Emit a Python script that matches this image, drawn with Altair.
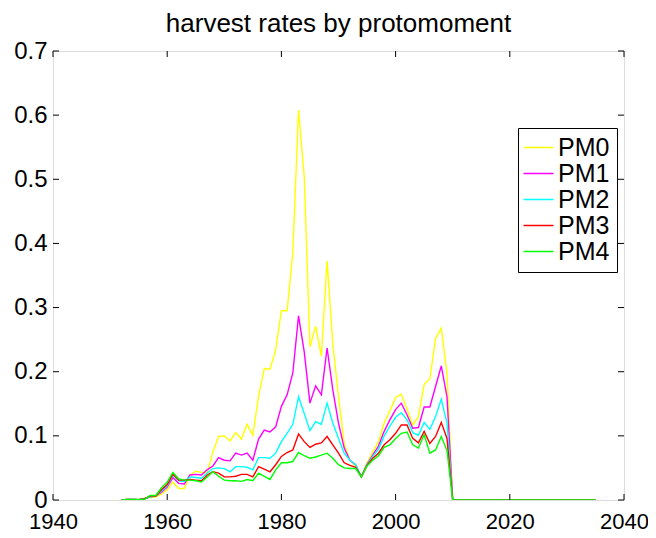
import altair as alt
import pandas as pd

years = list(range(1952, 2036))
n_zero = 2035 - 2010 + 1

pm0 = [0, 0.0005, 0.0005, 0.0005, 0.002, 0.004, 0.005, 0.009, 0.016,
       0.028, 0.018, 0.018, 0.039, 0.045, 0.043, 0.042, 0.075, 0.099, 0.100,
       0.092, 0.105, 0.095, 0.118, 0.101, 0.162, 0.205, 0.204, 0.234, 0.295,
       0.295, 0.385, 0.608, 0.504, 0.239, 0.271, 0.224, 0.373, 0.244, 0.161,
       0.088, 0.062, 0.052, 0.036, 0.058, 0.075, 0.091, 0.120, 0.139, 0.160,
       0.165, 0.142, 0.117, 0.130, 0.180, 0.189, 0.252, 0.268, 0.197] + [0] * n_zero
pm1 = [0, 0.001, 0.001, 0.0005, 0.002, 0.005, 0.006, 0.012, 0.020,
       0.035, 0.026, 0.025, 0.039, 0.040, 0.039, 0.047, 0.053, 0.066, 0.062,
       0.061, 0.073, 0.070, 0.073, 0.062, 0.095, 0.109, 0.106, 0.114, 0.146,
       0.164, 0.198, 0.287, 0.231, 0.151, 0.178, 0.164, 0.237, 0.172, 0.120,
       0.081, 0.062, 0.055, 0.036, 0.056, 0.070, 0.084, 0.107, 0.125, 0.141,
       0.151, 0.133, 0.112, 0.113, 0.145, 0.145, 0.177, 0.209, 0.161] + [0] * n_zero
pm2 = [0, 0.001, 0.001, 0.0005, 0.002, 0.005, 0.006, 0.014, 0.022,
       0.039, 0.030, 0.029, 0.036, 0.035, 0.034, 0.042, 0.049, 0.050, 0.049,
       0.044, 0.052, 0.052, 0.051, 0.047, 0.066, 0.066, 0.065, 0.073, 0.091,
       0.104, 0.118, 0.161, 0.135, 0.108, 0.122, 0.118, 0.151, 0.120, 0.096,
       0.073, 0.062, 0.055, 0.036, 0.055, 0.068, 0.079, 0.100, 0.115, 0.129,
       0.136, 0.125, 0.105, 0.101, 0.121, 0.110, 0.130, 0.157, 0.120] + [0] * n_zero
pm3 = [0, 0.001, 0.001, 0.0005, 0.002, 0.006, 0.006, 0.016, 0.024,
       0.040, 0.031, 0.031, 0.032, 0.031, 0.030, 0.039, 0.044, 0.042, 0.036,
       0.036, 0.037, 0.040, 0.040, 0.036, 0.052, 0.048, 0.044, 0.055, 0.068,
       0.074, 0.078, 0.103, 0.091, 0.082, 0.087, 0.089, 0.099, 0.086, 0.073,
       0.058, 0.054, 0.051, 0.036, 0.054, 0.065, 0.073, 0.086, 0.094, 0.104,
       0.117, 0.117, 0.096, 0.089, 0.107, 0.088, 0.099, 0.121, 0.096] + [0] * n_zero
pm4 = [0, 0.001, 0.001, 0.001, 0.001, 0.007, 0.007, 0.019, 0.028,
       0.043, 0.033, 0.031, 0.031, 0.030, 0.028, 0.036, 0.044, 0.037, 0.031,
       0.030, 0.030, 0.029, 0.032, 0.030, 0.042, 0.037, 0.032, 0.047, 0.058,
       0.058, 0.060, 0.074, 0.069, 0.065, 0.067, 0.070, 0.073, 0.065, 0.055,
       0.050, 0.049, 0.049, 0.036, 0.053, 0.062, 0.069, 0.082, 0.086, 0.096,
       0.104, 0.106, 0.086, 0.081, 0.102, 0.073, 0.078, 0.099, 0.077] + [0] * n_zero

series_names = ["PM0", "PM1", "PM2", "PM3", "PM4"]
series_colors = ["#ffff00", "#ff00ff", "#00ffff", "#ff0000", "#00ff00"]
x_ticks = [1940, 1960, 1980, 2000, 2020, 2040]
y_ticks = [0, 0.1, 0.2, 0.3, 0.4, 0.5, 0.6, 0.7]

W, H = 571, 449
TICK = 6
FONT = "Liberation Sans"

rows = []
for name, vals in zip(series_names, [pm0, pm1, pm2, pm3, pm4]):
    assert len(vals) == len(years), (name, len(vals))
    for yr, v in zip(years, vals):
        rows.append({"year": yr, "rate": v, "series": name})
df = pd.DataFrame(rows)

xs = alt.Scale(domain=[1940, 2040], nice=False, zero=False)
ys = alt.Scale(domain=[0, 0.7], nice=False, zero=False)

x_axis = alt.Axis(
    values=x_ticks, format="d", title=None, grid=False, ticks=False, domain=False,
    labelPadding=11, labelFontSize=22, labelFont=FONT, labelColor="black",
    labelFlush=False, labelOverlap=False, labelBound=False)
y_axis = alt.Axis(
    values=y_ticks, format=".1~f", title=None, grid=False, ticks=False, domain=False,
    labelPadding=6, labelFontSize=24, labelFont=FONT, labelColor="black",
    labelFlush=False, labelOverlap=False, labelBound=False)

lines = alt.Chart(df).mark_line(strokeWidth=1.4, clip=True).encode(
    x=alt.X("year:Q", scale=xs, axis=x_axis),
    y=alt.Y("rate:Q", scale=ys, axis=y_axis),
    color=alt.Color("series:N", scale=alt.Scale(domain=series_names, range=series_colors),
                    legend=alt.Legend(
                        title=None, orient="none", legendX=465, legendY=77,
                        direction="vertical", fillColor="white", strokeColor="black",
                        padding=7, labelFontSize=25, labelFont=FONT, labelColor="black",
                        symbolType="M-1.5,0L1.5,0", symbolSize=400, symbolStrokeWidth=1.5,
                        symbolOffset=1, labelOffset=7, rowPadding=0, labelLimit=300)),
)

xt = pd.DataFrame({"year": x_ticks})
yt = pd.DataFrame({"rate": y_ticks})

xb = alt.Chart(xt).mark_rule(color="black", strokeWidth=1).encode(
    x=alt.X("year:Q", scale=xs, axis=x_axis), y=alt.value(H), y2=alt.value(H - TICK))
xtop = alt.Chart(xt).mark_rule(color="black", strokeWidth=1).encode(
    x=alt.X("year:Q", scale=xs, axis=x_axis), y=alt.value(0), y2=alt.value(TICK))
yl = alt.Chart(yt).mark_rule(color="black", strokeWidth=1).encode(
    y=alt.Y("rate:Q", scale=ys, axis=y_axis), x=alt.value(0), x2=alt.value(TICK))
yr_ = alt.Chart(yt).mark_rule(color="black", strokeWidth=1).encode(
    y=alt.Y("rate:Q", scale=ys, axis=y_axis), x=alt.value(W - TICK), x2=alt.value(W))

chart = alt.layer(lines, xb, xtop, yl, yr_).properties(
    width=W, height=H,
    title=alt.TitleParams("harvest rates by protomoment", fontSize=26, font=FONT,
                          fontWeight="normal", color="black", offset=2,
                          anchor="middle"),
    autosize=alt.AutoSizeParams(type="none"),
    padding={"left": 45, "top": 43, "right": 24, "bottom": 35},
).configure_view(stroke="black", strokeWidth=1).configure(background="white")

chart.save("out.html", embed_options={"renderer": "svg", "actions": False})
